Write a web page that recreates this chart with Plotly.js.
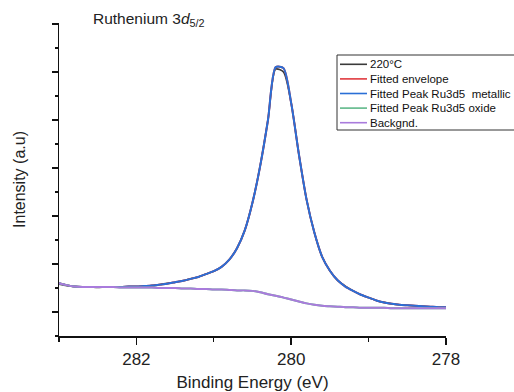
<!DOCTYPE html>
<html>
<head>
<meta charset="utf-8">
<script src="https://cdn.plot.ly/plotly-3.0.1.min.js"></script>
<style>
  html, body { margin: 0; padding: 0; background: #ffffff; }
  #chart { width: 514px; height: 392px; }
</style>
</head>
<body>
<div id="chart"></div>
<script>
// Binding energy grid (eV), high to low
const energy = [283.0, 282.9, 282.8, 282.7, 282.6, 282.5, 282.4, 282.3, 282.2, 282.1,
                282.0, 281.9, 281.8, 281.7, 281.6, 281.5, 281.4, 281.3, 281.2, 281.1,
                281.0, 280.9, 280.8, 280.7, 280.6, 280.5, 280.4, 280.3, 280.2, 280.1,
                280.0, 279.9, 279.8, 279.7, 279.6, 279.5, 279.4, 279.3, 279.2, 279.1,
                279.0, 278.9, 278.8, 278.7, 278.6, 278.5, 278.4, 278.3, 278.2, 278.1,
                278.0];

// Measured spectrum at 220 °C (arbitrary units)
const measured = [1.08, 1.05, 1.03, 1.02, 1.02, 1.01, 1.02, 1.02, 1.02, 1.03,
                  1.03, 1.04, 1.05, 1.07, 1.10, 1.12, 1.15, 1.19, 1.23, 1.29,
                  1.35, 1.44, 1.59, 1.83, 2.20, 2.78, 3.55, 4.50, 5.56, 5.50,
                  4.85, 3.78, 2.83, 2.15, 1.65, 1.36, 1.16, 1.04, 0.94, 0.86,
                  0.80, 0.74, 0.70, 0.67, 0.65, 0.64, 0.63, 0.62, 0.61, 0.60,
                  0.60];

// Fitted envelope
const envelope = [1.10, 1.06, 1.03, 1.02, 1.02, 1.02, 1.02, 1.02, 1.02, 1.03,
                  1.03, 1.04, 1.05, 1.07, 1.09, 1.12, 1.15, 1.19, 1.23, 1.29,
                  1.35, 1.44, 1.59, 1.83, 2.20, 2.78, 3.55, 4.50, 5.60, 5.58,
                  4.85, 3.78, 2.83, 2.15, 1.65, 1.36, 1.16, 1.03, 0.94, 0.86,
                  0.80, 0.74, 0.70, 0.67, 0.65, 0.64, 0.63, 0.62, 0.61, 0.60,
                  0.60];

// Fitted component: Ru 3d5/2 metallic
const metallic = [1.10, 1.06, 1.03, 1.02, 1.02, 1.02, 1.02, 1.02, 1.02, 1.03,
                  1.03, 1.04, 1.05, 1.07, 1.09, 1.12, 1.15, 1.19, 1.23, 1.29,
                  1.35, 1.44, 1.59, 1.83, 2.20, 2.78, 3.55, 4.50, 5.60, 5.58,
                  4.85, 3.78, 2.83, 2.15, 1.65, 1.36, 1.16, 1.03, 0.94, 0.86,
                  0.80, 0.74, 0.70, 0.67, 0.65, 0.64, 0.63, 0.62, 0.61, 0.60,
                  0.60];

// Fitted component: Ru 3d5/2 oxide
const oxide = [1.10, 1.06, 1.03, 1.02, 1.02, 1.02, 1.02, 1.02, 1.01, 1.01,
               1.01, 1.01, 1.01, 1.00, 1.00, 1.00, 0.99, 0.99, 0.98, 0.98,
               0.97, 0.97, 0.96, 0.95, 0.95, 0.94, 0.91, 0.87, 0.84, 0.80,
               0.76, 0.72, 0.68, 0.65, 0.63, 0.62, 0.61, 0.60, 0.60, 0.59,
               0.59, 0.59, 0.59, 0.58, 0.58, 0.58, 0.58, 0.58, 0.58, 0.58,
               0.58];

// Shirley-type background
const background = [1.10, 1.06, 1.03, 1.02, 1.02, 1.02, 1.02, 1.02, 1.01, 1.01,
                    1.01, 1.01, 1.01, 1.00, 1.00, 1.00, 0.99, 0.99, 0.98, 0.98,
                    0.97, 0.97, 0.96, 0.95, 0.95, 0.94, 0.91, 0.87, 0.84, 0.80,
                    0.76, 0.72, 0.68, 0.65, 0.63, 0.62, 0.61, 0.60, 0.60, 0.59,
                    0.59, 0.59, 0.59, 0.58, 0.58, 0.58, 0.58, 0.58, 0.58, 0.58,
                    0.58];

const seriesNames = ['220°C', 'Fitted envelope', 'Fitted Peak Ru3d5  metallic',
                     'Fitted Peak Ru3d5 oxide', 'Backgnd.'];
const seriesColors = ['#3a3a3a', '#e0393e', '#2a6fd6', '#5fb889', '#a97bdc'];
const seriesValues = [measured, envelope, metallic, oxide, background];

const xTickValues = [282, 280, 278];

const FONT = 'Liberation Sans, Arial, sans-serif';
const TEXT = '#222222';

const traces = seriesValues.map((vals, i) => ({
  type: 'scatter',
  mode: 'lines',
  x: energy,
  y: vals,
  name: seriesNames[i],
  line: { color: seriesColors[i], width: i === 0 ? 1.6 : 2, shape: 'spline', smoothing: 0.7 },
  hoverinfo: 'skip',
  showlegend: false
}));

// Legend box drawn as shapes + labels in paper coordinates
const plotL = 59, plotR = 446, plotT = 23, plotB = 336;
const px = v => (v - plotL) / (plotR - plotL);
const py = v => (plotB - v) / (plotB - plotT);

const shapes = [{
  type: 'rect', xref: 'paper', yref: 'paper',
  x0: px(337), x1: px(530), y0: py(130), y1: py(55),
  line: { color: '#333333', width: 1 }, fillcolor: 'rgba(255,255,255,1)', layer: 'above'
}];
const annotations = [];
seriesNames.forEach((name, i) => {
  const rowY = 64.3 + 14.6 * i;
  shapes.push({
    type: 'line', xref: 'paper', yref: 'paper',
    x0: px(340), x1: px(367), y0: py(rowY), y1: py(rowY),
    line: { color: seriesColors[i], width: 1.6 }, layer: 'above'
  });
  annotations.push({
    xref: 'paper', yref: 'paper', x: px(368), y: py(rowY),
    xanchor: 'left', yanchor: 'middle', showarrow: false,
    text: name, font: { family: FONT, size: 11.5, color: '#111111' }
  });
});

annotations.push({
  xref: 'paper', yref: 'paper', x: px(91), y: py(20),
  xanchor: 'left', yanchor: 'middle', showarrow: false,
  text: 'Ruthenium 3<i>d</i><sub>5/2</sub>',
  font: { family: FONT, size: 15.5, color: TEXT }
});

const layout = {
  width: 514, height: 392,
  margin: { l: plotL, r: 514 - plotR, t: plotT, b: 392 - plotB },
  paper_bgcolor: '#ffffff', plot_bgcolor: '#ffffff',
  showlegend: false,
  font: { family: FONT, color: TEXT },
  xaxis: {
    range: [283, 278],
    tickmode: 'array', tickvals: xTickValues, ticktext: xTickValues.map(String),
    ticks: 'outside', ticklen: 7, tickwidth: 1.5, tickcolor: '#111111',
    minor: { dtick: 1, tick0: 278, ticks: 'outside', ticklen: 4, tickwidth: 1.2, tickcolor: '#111111', showgrid: false },
    showline: true, linecolor: '#111111', linewidth: 1.5,
    showgrid: false, zeroline: false,
    tickfont: { family: FONT, size: 17, color: TEXT },
    title: { text: 'Binding Energy (eV)', font: { family: FONT, size: 17, color: TEXT }, standoff: 9 },
    automargin: false
  },
  yaxis: {
    range: [0, 6.52],
    tickmode: 'linear', tick0: 0.5, dtick: 1,
    ticks: 'outside', ticklen: 6, tickwidth: 1.5, tickcolor: '#111111',
    minor: { dtick: 0.5, tick0: 0, ticks: 'outside', ticklen: 3, tickwidth: 1.2, tickcolor: '#111111', showgrid: false },
    showticklabels: false,
    showline: true, linecolor: '#111111', linewidth: 1.5,
    showgrid: false, zeroline: false,
    title: { text: 'Intensity (a.u)', font: { family: FONT, size: 16, color: TEXT }, standoff: 22 },
    automargin: false
  },
  shapes: shapes,
  annotations: annotations
};

Plotly.newPlot('chart', traces, layout, { staticPlot: true, displayModeBar: false });
</script>
</body>
</html>
